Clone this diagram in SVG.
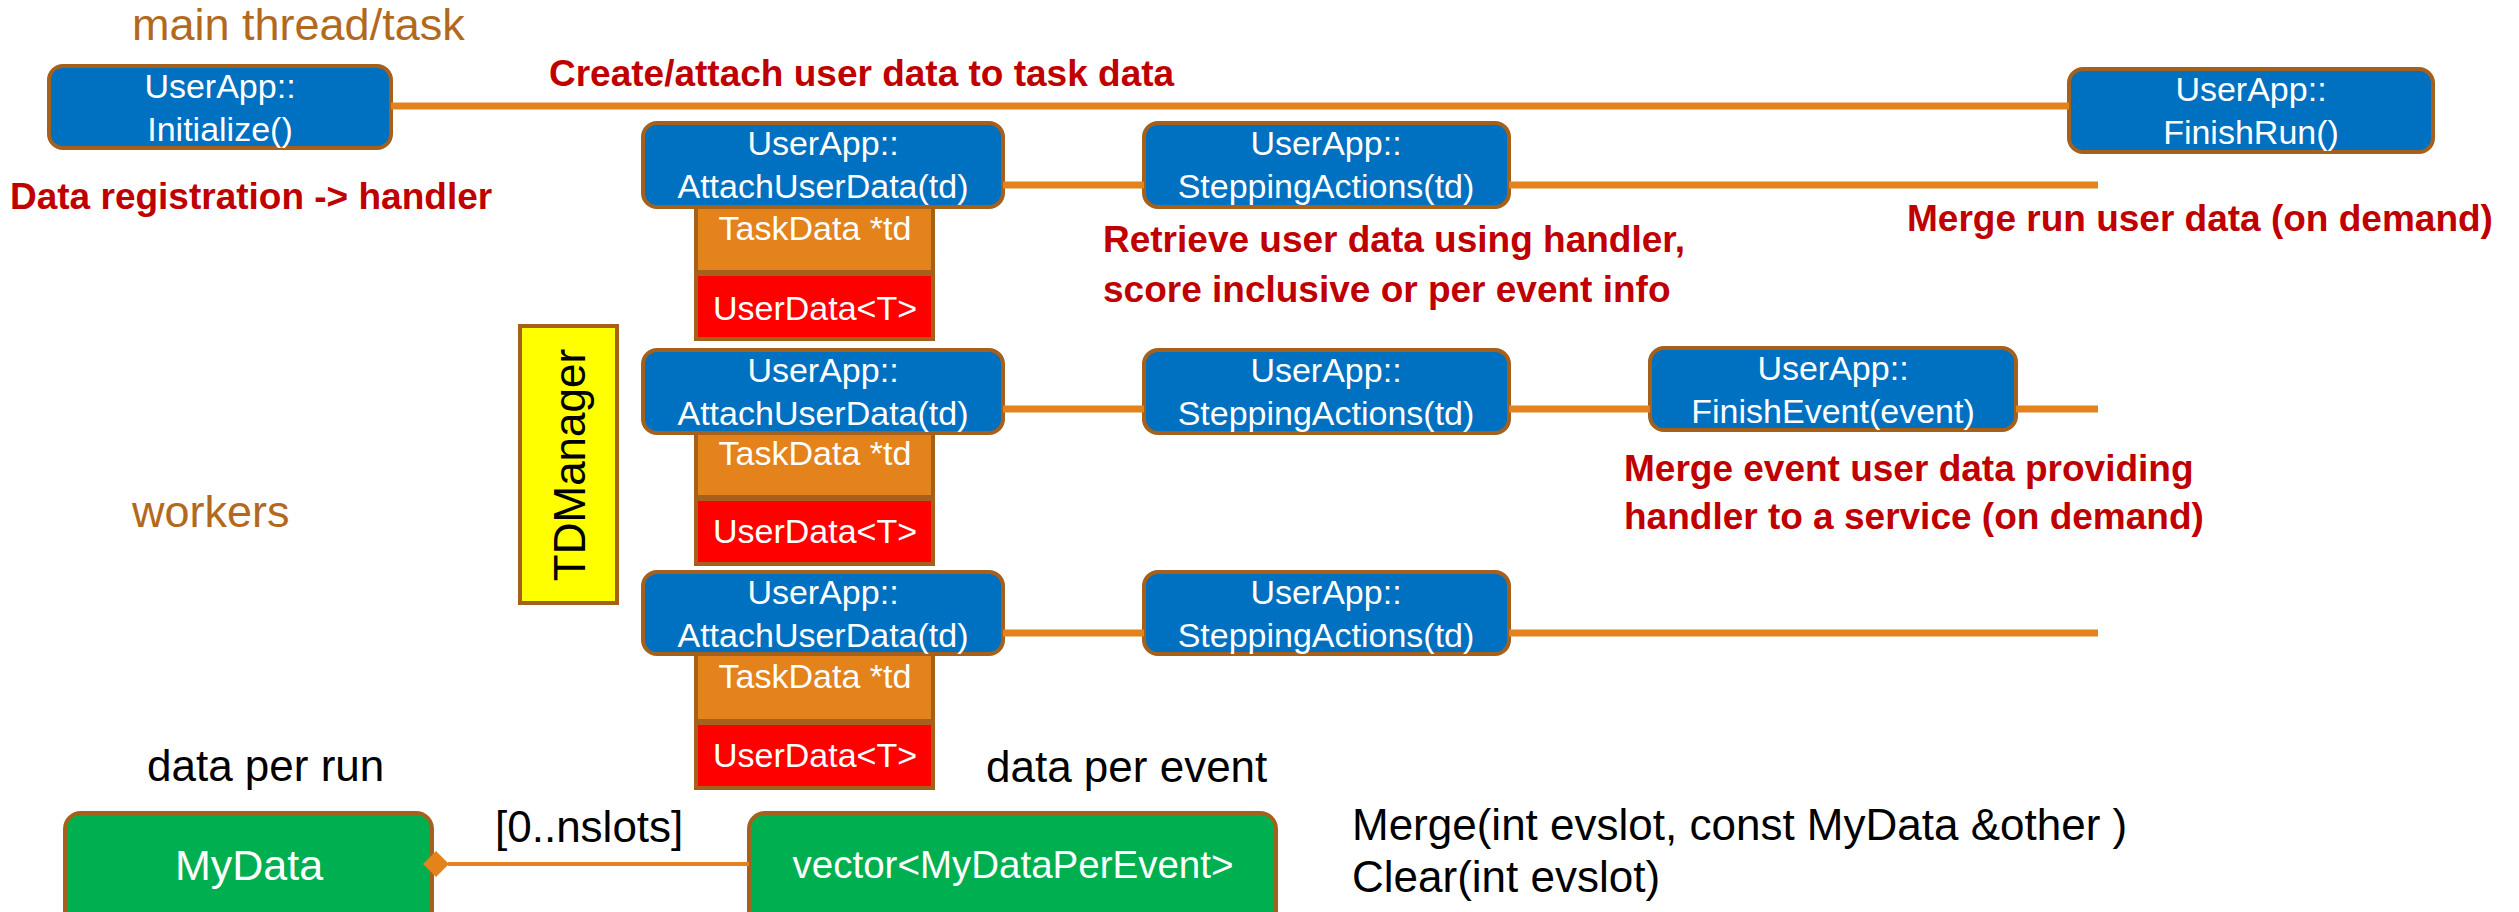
<svg xmlns="http://www.w3.org/2000/svg" width="2519" height="912" viewBox="0 0 2519 912">
<style>
text{font-family:"Liberation Sans",Arial,sans-serif}
.box{fill:#0070C0;stroke:#A5601C;stroke-width:4}
.bt{fill:#fff;font-size:34px;text-anchor:middle}
.red{fill:#C00000;font-weight:bold;font-size:37px}
.lbl{fill:#B3691D;font-size:45px}
.blk{fill:#000;font-size:44px}
.conn{stroke:#E4821C;stroke-width:7;fill:none}
.thin{stroke:#E4821C;stroke-width:4;fill:none}
.td{fill:#E4821C;stroke:#A5601C;stroke-width:4}
.ud{fill:#FF0000;stroke:#A5601C;stroke-width:4}
.grn{fill:#00B050;stroke:#A5601C;stroke-width:4}
.tdm{fill:#FFFF00;stroke:#A5601C;stroke-width:4}
</style>

<g id="labels">
<text class="lbl" x="132" y="40">main thread/task</text>
<text class="lbl" x="132" y="527">workers</text>
<text class="red" x="549" y="86">Create/attach user data to task data</text>
<text class="red" x="10" y="209">Data registration -&gt; handler</text>
<text class="red" x="1103" y="252">Retrieve user data using handler,</text>
<text class="red" x="1103" y="302">score inclusive or per event info</text>
<text class="red" x="1907" y="231">Merge run user data (on demand)</text>
<text class="red" x="1624" y="481">Merge event user data providing</text>
<text class="red" x="1624" y="529">handler to a service (on demand)</text>
<text class="blk" x="147" y="781">data per run</text>
<text class="blk" x="986" y="782">data per event</text>
<text class="blk" x="495" y="842">[0..nslots]</text>
<text class="blk" x="1352" y="840">Merge(int evslot, const MyData &amp;other )</text>
<text class="blk" x="1352" y="892">Clear(int evslot)</text>
</g>

<g id="tdmanager">
<rect class="tdm" x="520" y="326" width="97" height="277"/>
<text transform="translate(585,465) rotate(-90)" font-size="44" fill="#000" text-anchor="middle">TDManager</text>
</g>

<g id="taskdata1">
<rect class="td" x="696" y="207" width="237" height="65"/>
<text class="bt" x="815" y="240">TaskData *td</text>
</g>
<g id="userdata1">
<rect class="ud" x="696" y="274" width="237" height="65"/>
<text class="bt" x="815" y="320" font-size="33">UserData&lt;T&gt;</text>
</g>
<g id="taskdata2">
<rect class="td" x="696" y="433" width="237" height="64"/>
<text class="bt" x="815" y="465">TaskData *td</text>
</g>
<g id="userdata2">
<rect class="ud" x="696" y="499" width="237" height="65"/>
<text class="bt" x="815" y="543" font-size="33">UserData&lt;T&gt;</text>
</g>
<g id="taskdata3">
<rect class="td" x="696" y="654" width="237" height="67"/>
<text class="bt" x="815" y="688">TaskData *td</text>
</g>
<g id="userdata3">
<rect class="ud" x="696" y="723" width="237" height="65"/>
<text class="bt" x="815" y="767" font-size="33">UserData&lt;T&gt;</text>
</g>

<g id="initialize">
<rect class="box" x="49" y="66" width="342" height="82" rx="14"/>
<text class="bt" x="220" y="98">UserApp::</text>
<text class="bt" x="220" y="141">Initialize()</text>
</g>
<g id="finishrun">
<rect class="box" x="2069" y="69" width="364" height="83" rx="14"/>
<text class="bt" x="2251" y="101">UserApp::</text>
<text class="bt" x="2251" y="144">FinishRun()</text>
</g>
<g id="attach1">
<rect class="box" x="643" y="123" width="360" height="84" rx="14"/>
<text class="bt" x="823" y="155">UserApp::</text>
<text class="bt" x="823" y="198">AttachUserData(td)</text>
</g>
<g id="stepping1">
<rect class="box" x="1144" y="123" width="365" height="84" rx="14"/>
<text class="bt" x="1326" y="155">UserApp::</text>
<text class="bt" x="1326" y="198">SteppingActions(td)</text>
</g>
<g id="attach2">
<rect class="box" x="643" y="350" width="360" height="83" rx="14"/>
<text class="bt" x="823" y="382">UserApp::</text>
<text class="bt" x="823" y="425">AttachUserData(td)</text>
</g>
<g id="stepping2">
<rect class="box" x="1144" y="350" width="365" height="83" rx="14"/>
<text class="bt" x="1326" y="382">UserApp::</text>
<text class="bt" x="1326" y="425">SteppingActions(td)</text>
</g>
<g id="finishevent">
<rect class="box" x="1650" y="348" width="366" height="82" rx="14"/>
<text class="bt" x="1833" y="380">UserApp::</text>
<text class="bt" x="1833" y="423">FinishEvent(event)</text>
</g>
<g id="attach3">
<rect class="box" x="643" y="572" width="360" height="82" rx="14"/>
<text class="bt" x="823" y="604">UserApp::</text>
<text class="bt" x="823" y="647">AttachUserData(td)</text>
</g>
<g id="stepping3">
<rect class="box" x="1144" y="572" width="365" height="82" rx="14"/>
<text class="bt" x="1326" y="604">UserApp::</text>
<text class="bt" x="1326" y="647">SteppingActions(td)</text>
</g>

<g id="mydata">
<rect class="grn" x="65" y="813" width="367" height="130" rx="16"/>
<text x="249" y="880" font-size="43" fill="#fff" text-anchor="middle">MyData</text>
</g>
<g id="vector">
<rect class="grn" x="749" y="813" width="527" height="130" rx="16"/>
<text x="1013" y="878" font-size="38.5" fill="#fff" text-anchor="middle">vector&lt;MyDataPerEvent&gt;</text>
</g>

<g id="connectors">
<line class="conn" x1="391" y1="106" x2="2069" y2="106"/>
<line class="conn" x1="1003" y1="185" x2="1144" y2="185"/>
<line class="conn" x1="1509" y1="185" x2="2098" y2="185"/>
<line class="conn" x1="1003" y1="409" x2="1144" y2="409"/>
<line class="conn" x1="1509" y1="409" x2="1650" y2="409"/>
<line class="conn" x1="2016" y1="409" x2="2098" y2="409"/>
<line class="conn" x1="1003" y1="633" x2="1144" y2="633"/>
<line class="conn" x1="1509" y1="633" x2="2098" y2="633"/>
<line class="thin" x1="448" y1="864" x2="749" y2="864"/>
<polygon points="423,864 436,851 449,864 436,877" fill="#E4821C"/>
</g>
</svg>
